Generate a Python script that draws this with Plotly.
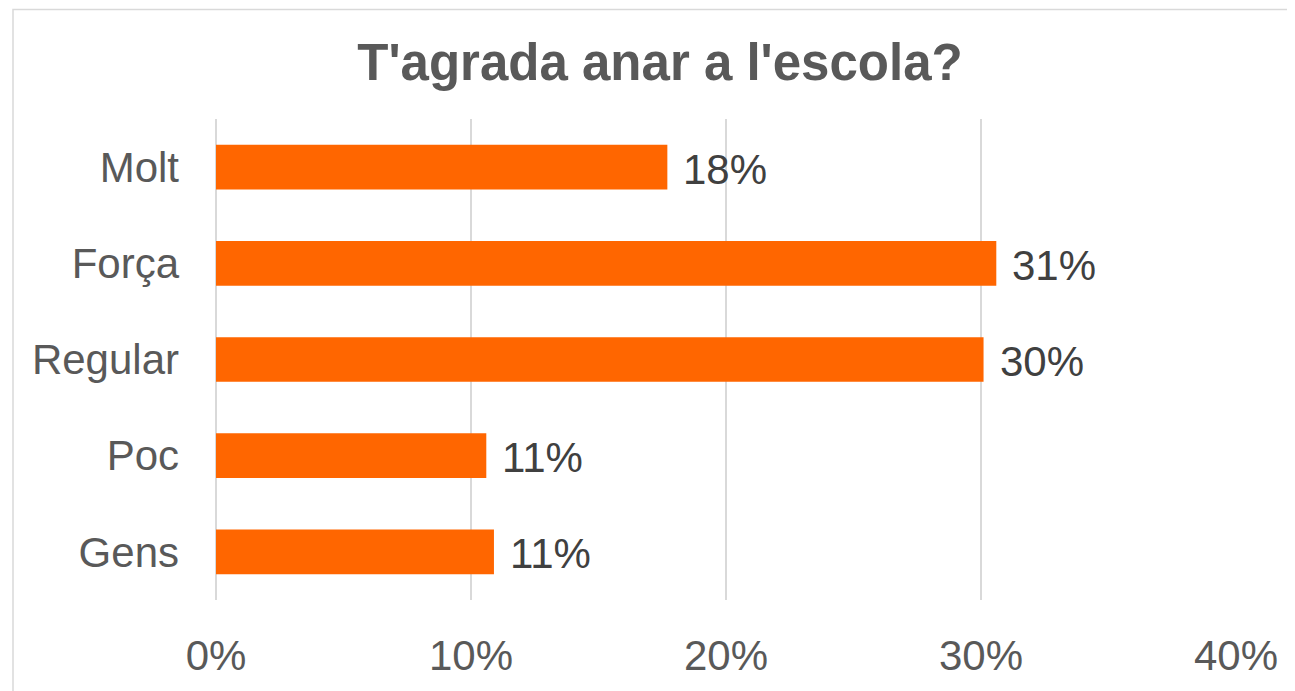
import plotly.graph_objects as go

categories = ["Molt", "Força", "Regular", "Poc", "Gens"]
values = [0.177, 0.306, 0.301, 0.106, 0.109]
labels = ["18%", "31%", "30%", "11%", "11%"]
tick_vals = [0, 0.1, 0.2, 0.3, 0.4]
tick_text = ["0%", "10%", "20%", "30%", "40%"]
title_text = "T'agrada anar a l'escola?"

FONT = "Liberation Sans, Arial, sans-serif"

# page body has an 8px margin, so the figure is sized/positioned to compensate
W, H = 1287, 683
L, R, T, B = 208, 59, 111, 88
PW = W - L - R
PH = H - T - B

fig = go.Figure()
fig.add_trace(go.Bar(
    x=values, y=categories, orientation="h",
    marker=dict(color="#FF6600", line=dict(width=0)),
    hoverinfo="skip",
))

for c, v, t in zip(categories, values, labels):
    fig.add_annotation(x=v, y=c, text=t, showarrow=False, xanchor="left",
                       yanchor="middle", xshift=14, yshift=-2,
                       font=dict(family=FONT, size=42, color="#404040"))

fig.update_layout(
    width=W, height=H,
    margin=dict(l=L, r=R, t=T, b=B),
    paper_bgcolor="white", plot_bgcolor="white",
    bargap=0.535,
    showlegend=False,
    title=dict(text=f"<b>{title_text}</b>", x=652 / W, y=1 - 54 / H,
               xanchor="center", yanchor="middle", xref="container", yref="container",
               font=dict(family=FONT, size=51, color="#595959")),
    xaxis=dict(range=[0, 0.4], tickvals=tick_vals, ticktext=tick_text,
               showgrid=True, gridcolor="#d9d9d9", gridwidth=1.5,
               zeroline=True, zerolinecolor="#d9d9d9", zerolinewidth=1.5,
               showline=False, ticks="", ticklabelstandoff=27,
               tickfont=dict(family=FONT, size=42, color="#595959")),
    yaxis=dict(categoryorder="array", categoryarray=categories, autorange="reversed",
               showgrid=False, showline=False, ticks="", ticklabelstandoff=36,
               tickfont=dict(family=FONT, size=42, color="#595959")),
    shapes=[dict(type="rect", xref="paper", yref="paper",
                 x0=(5 - L) / PW, x1=(W + 20 - L) / PW,
                 y0=-(B + 20) / PH, y1=(PH + T - 0.8) / PH,
                 line=dict(color="#d9d9d9", width=1.5), fillcolor="rgba(0,0,0,0)",
                 layer="below")],
)

fig.write_html("out.html")
